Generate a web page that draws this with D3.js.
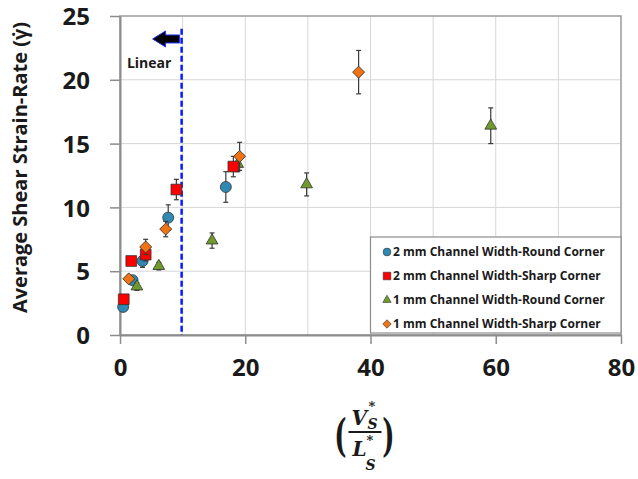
<!DOCTYPE html>
<html>
<head>
<meta charset="utf-8">
<script src="https://cdn.jsdelivr.net/npm/d3@7"></script>
<style>
  html, body { margin: 0; padding: 0; background: #fff; }
  svg { display: block; }
</style>
</head>
<body>
<svg id="chart" width="638" height="479"></svg>
<script>
// series: 2 mm round, 2 mm sharp, 1 mm round, 1 mm sharp
const SERIES_NAMES = [
  "2 mm Channel Width-Round Corner",
  "2 mm Channel Width-Sharp Corner",
  "1 mm Channel Width-Round Corner",
  "1 mm Channel Width-Sharp Corner"
];

const round2X = [0.5, 2.0, 3.6, 7.7, 16.9];
const round2Y = [2.2, 4.3, 5.8, 9.2, 11.6];
const round2Err = [0.2, 0.3, 0.5, 1.0, 1.2];

const sharp2X = [0.6, 1.8, 4.1, 9.0, 18.1];
const sharp2Y = [2.8, 5.8, 6.3, 11.4, 13.2];
const sharp2Err = [0.2, 0.3, 0.5, 0.8, 0.8];

const round1X = [2.7, 6.2, 14.7, 18.8, 29.8, 59.2];
const round1Y = [3.8, 5.4, 7.4, 13.4, 11.8, 16.4];
const round1Err = [0.3, 0.3, 0.6, 0.6, 0.9, 1.4];

const sharp1X = [1.4, 4.1, 7.3, 19.1, 38.1];
const sharp1Y = [4.4, 6.9, 8.3, 14.0, 20.6];
const sharp1Err = [0.2, 0.6, 0.6, 1.1, 1.7];

const X_TICKS = [0, 20, 40, 60, 80];
const X_GRID = [10, 20, 30, 40, 50, 60, 70];
const Y_TICKS = [0, 5, 10, 15, 20, 25];

const LINEAR_LIMIT = 10;   // dashed line position
const LINEAR_TOP = 24;     // dashed line top value

const svg = d3.select("#chart");
const FONT = "'Open Sans', 'DejaVu Sans', sans-serif";

const x = d3.scaleLinear().domain([0, 80]).range([120, 621]);
const y = d3.scaleLinear().domain([0, 25]).range([335, 16]);

// rot: diamond is drawn as a square turned 45 degrees
const SERIES = [
  { name: SERIES_NAMES[0], xs: round2X, ys: round2Y, err: round2Err, symbol: d3.symbolCircle, size: 95, rot: 0, fill: "#2f89b3" },
  { name: SERIES_NAMES[1], xs: sharp2X, ys: sharp2Y, err: sharp2Err, symbol: d3.symbolSquare, size: 115, rot: 0, fill: "#ff0000" },
  { name: SERIES_NAMES[2], xs: round1X, ys: round1Y, err: round1Err, symbol: d3.symbolTriangle, size: 60, rot: 0, fill: "#6f9a2c" },
  { name: SERIES_NAMES[3], xs: sharp1X, ys: sharp1Y, err: sharp1Err, symbol: d3.symbolSquare, size: 72, rot: 45, fill: "#f07212" }
];

// gridlines
const grid = svg.append("g").attr("stroke", "#d6d6d6").attr("stroke-width", 1);
grid.selectAll("line.vg")
  .data(X_GRID)
  .join("line")
  .attr("class", "vg")
  .attr("x1", d => x(d)).attr("x2", d => x(d))
  .attr("y1", y(25)).attr("y2", y(0));
grid.selectAll("line.hg")
  .data(Y_TICKS.filter(d => d > 0 && d < 25))
  .join("line")
  .attr("class", "hg")
  .attr("x1", x(0)).attr("x2", x(80))
  .attr("y1", d => y(d)).attr("y2", d => y(d));

// frame
svg.append("rect")
  .attr("x", x(0)).attr("y", y(25))
  .attr("width", x(80) - x(0)).attr("height", y(0) - y(25))
  .attr("fill", "none")
  .attr("stroke", "#9a9a9a")
  .attr("stroke-width", 1.5);

// axes
const xAxis = svg.append("g")
  .attr("transform", `translate(0,${y(0)})`)
  .call(d3.axisBottom(x).tickValues(X_TICKS).tickSize(9).tickPadding(15).tickSizeOuter(0));
const yAxis = svg.append("g")
  .attr("transform", `translate(${x(0)},0)`)
  .call(d3.axisLeft(y).tickValues(Y_TICKS).tickSize(10).tickPadding(20).tickSizeOuter(0));

[xAxis, yAxis].forEach(g => {
  g.select(".domain").attr("stroke", "#8c8c8c").attr("stroke-width", 2);
  g.selectAll(".tick line").attr("stroke", "#8c8c8c").attr("stroke-width", 1.5);
  g.selectAll(".tick text")
    .attr("fill", "#1a1a1a")
    .attr("font-family", FONT)
    .attr("font-weight", 700)
    .attr("font-size", 24);
});
yAxis.selectAll(".tick text").attr("dy", "0.36em");

// dashed "linear" limit
svg.append("line")
  .attr("x1", x(LINEAR_LIMIT) - 1).attr("x2", x(LINEAR_LIMIT) - 1)
  .attr("y1", y(LINEAR_TOP)).attr("y2", y(0))
  .attr("stroke", "#0a1cff")
  .attr("stroke-width", 2.5)
  .attr("stroke-dasharray", "6,3");

// arrow pointing left
const ax0 = x(LINEAR_LIMIT) - 3, ax1 = x(5.2), ay = y(23.2);
svg.append("path")
  .attr("d", `M${ax1},${ay} L${ax1 + 13},${ay - 8} L${ax1 + 13},${ay - 4} L${ax0},${ay - 4} L${ax0},${ay + 4} L${ax1 + 13},${ay + 4} L${ax1 + 13},${ay + 8} Z`)
  .attr("fill", "#000")
  .attr("stroke", "#2233ff")
  .attr("stroke-width", 1);

svg.append("text")
  .attr("x", x(1.1))
  .attr("y", y(20.95))
  .attr("font-family", FONT)
  .attr("font-weight", 700)
  .attr("font-size", 14)
  .attr("fill", "#1a1a1a")
  .text("Linear");

// error bars and markers
const pointLayer = svg.append("g");
const drawOrder = [0, 2, 1, 3];
drawOrder.forEach(i => {
  const s = SERIES[i];
  const pts = s.xs.map((v, j) => ({ x: v, y: s.ys[j], e: s.err[j] }));
  const g = pointLayer.append("g");
  const eb = g.selectAll("g.eb").data(pts).join("g").attr("class", "eb")
    .attr("stroke", "#3a3a3a").attr("stroke-width", 1.2);
  eb.append("line")
    .attr("x1", d => x(d.x)).attr("x2", d => x(d.x))
    .attr("y1", d => y(d.y + d.e)).attr("y2", d => y(d.y - d.e));
  eb.append("line")
    .attr("x1", d => x(d.x) - 2.5).attr("x2", d => x(d.x) + 2.5)
    .attr("y1", d => y(d.y + d.e)).attr("y2", d => y(d.y + d.e));
  eb.append("line")
    .attr("x1", d => x(d.x) - 2.5).attr("x2", d => x(d.x) + 2.5)
    .attr("y1", d => y(d.y - d.e)).attr("y2", d => y(d.y - d.e));
  g.selectAll("path.mk").data(pts).join("path").attr("class", "mk")
    .attr("d", d3.symbol().type(s.symbol).size(s.size))
    .attr("transform", d => `translate(${x(d.x)},${y(d.y)}) rotate(${s.rot})`)
    .attr("fill", s.fill)
    .attr("stroke", "#333")
    .attr("stroke-width", 0.8);
});

// legend
const legend = svg.append("g");
legend.append("rect")
  .attr("x", x(40)).attr("y", 237)
  .attr("width", x(80) - x(40)).attr("height", 96)
  .attr("fill", "#fff")
  .attr("stroke", "#8c8c8c")
  .attr("stroke-width", 1.2);
const items = legend.selectAll("g.item").data(SERIES).join("g")
  .attr("class", "item")
  .attr("transform", (d, i) => `translate(387,${252 + i * 24})`);
items.append("path")
  .attr("d", d => d3.symbol().type(d.symbol).size(d.size * 0.5)())
  .attr("transform", d => `rotate(${d.rot})`)
  .attr("fill", d => d.fill)
  .attr("stroke", "#333")
  .attr("stroke-width", 0.6);
items.append("text")
  .attr("x", 6)
  .attr("dy", "0.35em")
  .attr("font-family", FONT)
  .attr("font-weight", 700)
  .attr("font-size", 12)
  .attr("fill", "#1a1a1a")
  .text(d => d.name);

// y-axis title
svg.append("text")
  .attr("transform", `translate(27,${(y(0) + y(25)) / 2 - 8}) rotate(-90)`)
  .attr("text-anchor", "middle")
  .attr("font-family", FONT)
  .attr("font-weight", 700)
  .attr("font-size", 20)
  .attr("fill", "#1a1a1a")
  .text("Average Shear Strain-Rate (\u03B3\u0307)");

// x-axis title: (V*_S / L*_S)
const SERIF = "'DejaVu Serif', 'Liberation Serif', serif";
const xt = svg.append("g").attr("fill", "#1a1a1a").attr("font-family", SERIF).attr("font-weight", 700);
const cx = (x(0) + x(80)) / 2 - 6;
xt.append("text").attr("transform", `translate(${cx - 24},438) scale(1,1.7)`).attr("font-size", 26)
  .attr("text-anchor", "middle").attr("dy", "0.3em").text("(");
xt.append("text").attr("transform", `translate(${cx + 24},438) scale(1,1.7)`).attr("font-size", 26)
  .attr("text-anchor", "middle").attr("dy", "0.3em").text(")");
xt.append("line").attr("x1", cx - 16).attr("x2", cx + 17).attr("y1", 432).attr("y2", 432)
  .attr("stroke", "#1a1a1a").attr("stroke-width", 1.8);
xt.append("text").attr("x", cx - 13).attr("y", 425).attr("font-size", 20).attr("font-style", "italic").text("V");
xt.append("text").attr("x", cx + 4).attr("y", 411).attr("font-size", 13).text("*");
xt.append("text").attr("x", cx + 3).attr("y", 429).attr("font-size", 14).attr("font-style", "italic").text("S");
xt.append("text").attr("x", cx - 12).attr("y", 456).attr("font-size", 20).attr("font-style", "italic").text("L");
xt.append("text").attr("x", cx + 2).attr("y", 445).attr("font-size", 13).text("*");
xt.append("text").attr("x", cx + 1).attr("y", 470).attr("font-size", 14).attr("font-style", "italic").text("S");
</script>
</body>
</html>
